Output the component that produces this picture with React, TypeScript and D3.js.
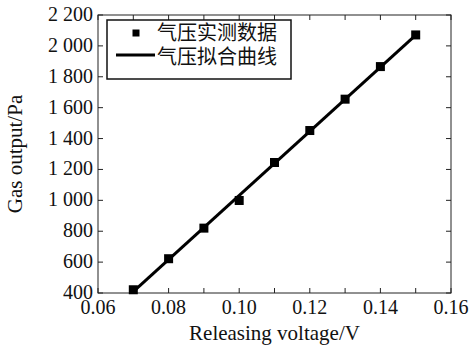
import React from "react";
import * as d3 from "d3";

const voltage = [0.07, 0.08, 0.09, 0.1, 0.11, 0.12, 0.13, 0.14, 0.15]; // 释放电压 V
const measured = [421, 622, 820, 999, 1245, 1452, 1655, 1866, 2071]; // 气压实测 Pa
const fitX = [0.07, 0.15]; // 拟合曲线端点
const fitY = [409, 2069];
const xTickValues = [0.06, 0.07, 0.08, 0.09, 0.1, 0.11, 0.12, 0.13, 0.14, 0.15, 0.16];
const xLabelValues = [0.06, 0.08, 0.1, 0.12, 0.14, 0.16];
const yTickValues = [400, 600, 800, 1000, 1200, 1400, 1600, 1800, 2000, 2200];
const legendLabels = ["气压实测数据", "气压拟合曲线"];

export default function App() {
  const width = 471,
    height = 350;
  const left = 98,
    right = 451,
    top = 15,
    bottom = 293;

  const xScale = d3.scaleLinear().domain([0.06, 0.16]).range([left, right]);
  const yScale = d3.scaleLinear().domain([400, 2200]).range([bottom, top]);

  const fitLine = d3
    .line<number>()
    .x((d) => xScale(d))
    .y((d, i) => yScale(fitY[i]));

  const fmtY = (v: number) => {
    const s = String(v);
    return s.length > 3 ? s.slice(0, s.length - 3) + " " + s.slice(-3) : s;
  };
  const tickLen = 5;
  const serif = "'Liberation Serif', 'Times New Roman', serif";
  const cjk = "'Noto Sans CJK SC', sans-serif";

  return (
    <div style={{ position: "absolute", left: 0, top: 0 }}>
      <svg width={width} height={height} style={{ display: "block", background: "#fff" }}>
        {/* 枠 */}
        <rect
          x={left}
          y={top}
          width={right - left}
          height={bottom - top}
          fill="none"
          stroke="#222"
          strokeWidth={1}
        />
        {/* x目盛 */}
        {xTickValues.map((t) => (
          <g key={"x" + t}>
            <line x1={xScale(t)} x2={xScale(t)} y1={bottom} y2={bottom - tickLen} stroke="#222" />
            <line x1={xScale(t)} x2={xScale(t)} y1={top} y2={top + tickLen} stroke="#222" />
          </g>
        ))}
        {xLabelValues.map((t) => (
          <text
            key={"xl" + t}
            x={xScale(t)}
            y={314}
            textAnchor="middle"
            fontFamily={serif}
            fontSize={20}
            fill="#111"
          >
            {t.toFixed(2)}
          </text>
        ))}
        {/* y目盛 */}
        {yTickValues.map((t) => (
          <g key={"y" + t}>
            <line x1={left} x2={left + tickLen} y1={yScale(t)} y2={yScale(t)} stroke="#222" />
            <line x1={right} x2={right - tickLen} y1={yScale(t)} y2={yScale(t)} stroke="#222" />
            <text
              x={93}
              y={yScale(t)}
              dy="0.3em"
              textAnchor="end"
              fontFamily={serif}
              fontSize={20}
              fill="#111"
            >
              {fmtY(t)}
            </text>
          </g>
        ))}
        {/* 軸タイトル */}
        <text
          x={(left + right) / 2}
          y={340}
          textAnchor="middle"
          fontFamily={serif}
          fontSize={21}
          fill="#111"
        >
          Releasing voltage/V
        </text>
        <text
          transform={`translate(22, ${(top + bottom) / 2}) rotate(-90)`}
          textAnchor="middle"
          fontFamily={serif}
          fontSize={21}
          fill="#111"
        >
          Gas output/Pa
        </text>
        {/* 拟合曲线 */}
        <path d={fitLine(fitX) || ""} fill="none" stroke="#000" strokeWidth={3} />
        {/* 实测点 */}
        {voltage.map((v, i) => (
          <rect
            key={"p" + i}
            x={xScale(v) - 4.5}
            y={yScale(measured[i]) - 4.5}
            width={9}
            height={9}
            fill="#000"
          />
        ))}
        {/* 凡例 */}
        <g>
          <rect x={107} y={20} width={184} height={59} fill="#fff" stroke="#111" strokeWidth={1.5} />
          <rect x={136 - 3.5} y={33 - 3.5} width={7} height={7} fill="#000" />
          <line x1={116} x2={155} y1={55} y2={55} stroke="#000" strokeWidth={3} />
          {legendLabels.map((l, i) => (
            <text
              key={l}
              x={157}
              y={33 + i * 24}
              dy="0.36em"
              fontFamily={cjk}
              fontSize={20}
              fill="#111"
            >
              {l}
            </text>
          ))}
        </g>
      </svg>
    </div>
  );
}
